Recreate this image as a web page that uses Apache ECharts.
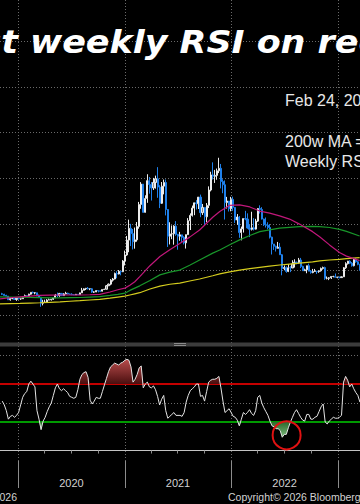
<!DOCTYPE html>
<html><head><meta charset="utf-8">
<script src="https://cdn.jsdelivr.net/npm/echarts@6/dist/echarts.min.js"></script>
<style>html,body{margin:0;padding:0;background:#000;}#c{width:360px;height:504px;}</style>
</head><body><div id="c"></div>
<script>
// ---- data (weekly BTC bars, first bar dated below, one bar per week) ----
const firstBarDate = '2019-11-08';
const opens = [9530,9310,8810,8500,6900,7420,7510,7070,7510,7300,
7350,8180,8700,8600,9350,10150,9920,9960,8530,8040,
5360,5830,5880,6780,6900,7120,7700,8900,8750,9670,
8720,9450,9750,9380,9300,9120,9070,9300,9170,9930,
11050,11680,11900,11680,11700,10250,10330,10920,10780,10670,
11380,11500,13030,13740,15480,15970,18400,18180,19370,19170,
23860,26500,33000,38150,35830,32290,33110,38900,48580,57490,
45140,51200,59000,57300,55800,58200,59800,56200,49100,56600,
58200,46400,34700,35700,35800,39100,35500,34700,35300,34200,
31800,35400,41500,43800,47000,49300,48900,51800,45000,47300,
43200,48200,54900,61500,60900,61300,63300,64400,58600,57200,
49400,50100,46700,50800,47300,41800,43100,36300,37900,42400,
42200,38300,37700,38400,37800,41300,46800,46400,42200,39700,
39500,38500,34300,31300,30300,29400,29900,26600,20600,21000,
19300,20900,20800,22600,23300,23200,24300,21500,19600,20000,
21800,19400,18800,19300,19400,19200,19600,20600,21000,16300,
16300,16500,17100,17100,16750,16800,16600,16950,20900,22700,
23800,22900,21800,24600,23500,22400];
const closes = [9310,8810,8500,6900,7420,7510,7070,7510,7300,7350,
8180,8700,8600,9350,10150,9920,9960,8530,8040,5360,
5830,5880,6780,6900,7120,7700,8900,8750,9670,8720,
9450,9750,9380,9300,9120,9070,9300,9170,9930,11050,
11680,11900,11680,11700,10250,10330,10920,10780,10670,11380,
11500,13030,13740,15480,15970,18400,18180,19370,19170,23860,
26500,33000,38150,35830,32290,33110,38900,48580,57490,45140,
51200,59000,57300,55800,58200,59800,56200,49100,56600,58200,
46400,34700,35700,35800,39100,35500,34700,35300,34200,31800,
35400,41500,43800,47000,49300,48900,51800,45000,47300,43200,
48200,54900,61500,60900,61300,63300,64400,58600,57200,49400,
50100,46700,50800,47300,41800,43100,36300,37900,42400,42200,
38300,37700,38400,37800,41300,46800,46400,42200,39700,39500,
38500,34300,31300,30300,29400,29900,26600,20600,21000,19300,
20900,20800,22600,23300,23200,24300,21500,19600,20000,21800,
19400,18800,19300,19400,19200,19600,20600,21000,16300,16300,
16500,17100,17100,16750,16800,16600,16950,20900,22700,23800,
22900,21800,24600,23500,22400,22100];
const highs = [9940,9500,9080,8500,7860,7750,7690,7520,7700,7500,
8450,9190,8750,9560,10160,10500,10250,9990,9190,8180,
6900,6950,7200,7460,7290,7720,9450,10050,9900,9900,
9750,10400,10000,9600,9750,9300,9450,9340,10000,12100,
11900,12100,12470,11800,12050,10650,11100,10990,10950,11450,
11720,13350,14000,15950,16450,18800,19400,19900,19400,24250,
28400,34800,41950,40100,37850,38500,40900,49700,58350,57500,
52600,61800,60600,58400,60200,61200,64900,57000,58400,59500,
59500,46600,40800,39400,39500,41300,35700,36600,35300,34700,
35400,42600,44700,48100,49400,50500,51900,52900,48800,47300,
49200,56500,62900,67000,63700,64300,69000,66300,59600,59100,
51900,50100,51900,52000,47500,44400,43500,38900,42500,45800,
44700,39800,45400,42600,42300,47000,48200,47400,42400,42900,
40800,40000,34500,31300,30600,32200,31700,26900,21900,21500,
22500,21600,24200,24600,23600,25200,25200,21800,20500,21800,
22700,19900,20400,20400,19500,19700,21000,21400,21400,17100,
16800,17200,17400,18400,16950,16950,17100,21200,23300,23900,
24200,23400,25200,25200,23900,22600];
const lows = [8970,8700,8400,6790,6520,7170,7010,6430,7050,6870,
7350,8080,8300,8550,9100,9700,9300,8500,8020,3850,
4450,5690,5860,6780,6550,6800,7650,8100,8200,8700,
8650,9300,9250,9150,8950,8950,9050,9050,9130,9920,
10950,11150,11400,11100,9900,9900,10250,10150,10400,10530,
11220,11420,12950,13250,14850,15800,16300,18000,17600,19000,
21900,26100,27700,30400,28900,29250,32300,37990,46700,44900,
45000,49300,53300,50300,54900,55500,51500,47000,48800,53000,
43800,30000,31100,33400,31000,34900,28800,32700,32100,31100,
29300,35200,37400,43300,43900,46400,46600,43000,44000,39600,
40800,47000,54300,59500,58000,59400,62300,55600,53500,42000,
46800,45500,45600,45800,40500,39700,34000,32900,36300,41700,
38000,34300,37200,37200,37600,40900,44600,42000,39200,38500,
37700,33700,26700,28700,28000,29300,26600,17600,19800,18700,
19000,19000,20800,21000,22400,22700,20800,19600,19600,18500,
19400,18300,18500,19100,18200,18700,19200,20100,15600,15800,
15500,16000,16700,16600,16300,16300,16500,16900,20400,22300,
22500,21400,21500,23100,22000,19600];
const rsi = [52,48,42,33,36,37,35,37,40,48,
56,60,62,70,73,70,67,42,33,22,
31,35,41,46,50,58,66,70,65,63,
65,63,61,57,56,55,56,64,75,80,
82,83,77,53,49,52,56,55,55,62,
69,76,83,88,90,92,91,90,92,93,
95,96,95,88,72,75,80,87,89,66,
70,72,67,66,68,64,57,48,54,58,
42,34,36,38,40,37,37,37,36,40,
51,58,63,65,67,70,70,57,58,52,
62,72,74,75,75,76,78,66,52,40,
42,44,40,36,35,32,26,33,40,38,
40,43,39,37,42,56,58,50,45,41,
37,31,26,25,23,23,21,14,17,17,
24,30,35,40,43,39,35,32,31,38,
38,33,33,35,36,41,46,49,30,28,
31,33,35,34,34,35,37,72,78,74,
67,70,65,61,58,51];
// moving averages (USD thousands) read at sample dates
const maDates = ['2019-10-31','2019-12-05','2020-01-08','2020-02-11','2020-03-16','2020-04-19','2020-05-24','2020-06-27','2020-07-31','2020-09-03','2020-10-07','2020-11-11','2020-12-08','2021-01-01','2021-01-18','2021-02-04','2021-02-21','2021-03-28','2021-05-01','2021-06-04','2021-07-08','2021-08-11','2021-09-14','2021-10-29','2021-11-22','2021-12-26','2022-01-29','2022-03-05','2022-04-08','2022-05-12','2022-06-15','2022-07-19','2022-08-22','2022-10-06','2022-10-30','2022-12-03','2023-01-06','2023-01-30','2023-03-16'];
const ma50 = [7.3,7.8,8.2,8.5,8.8,8.9,9.0,9.0,9.0,9.1,9.3,10.3,11.3,12.0,13.3,14.8,17.0,21.8,25.8,28.8,31.5,34.3,37.4,43.0,45.5,48.2,48.4,47.5,45.7,44.8,43.6,42.2,40.0,36.7,34.5,30.9,27.6,26.0,24.0];
const ma100 = [8.2,8.1,8.0,7.9,7.8,7.7,7.7,7.8,7.9,8.1,8.3,8.8,9.3,9.8,11.0,12.0,13.0,15.3,17.8,19.0,19.9,22.0,24.3,27.3,28.7,31.0,33.1,35.0,36.7,37.5,38.2,38.6,38.9,39.0,38.9,38.5,37.7,36.8,34.8];
const ma200 = [5.1,5.2,5.3,5.45,5.6,5.8,6.0,6.25,6.5,6.8,7.1,7.6,8.1,8.5,9.0,9.5,10.0,11.6,12.9,13.7,14.2,15.1,16.0,17.4,18.2,19.1,19.9,20.5,21.1,21.6,22.1,22.5,22.9,23.5,23.9,24.3,24.6,24.9,25.3];
// axes
const viewStart = '2019-10-31T08:00:00Z';
const viewEnd = '2023-03-17T08:00:00Z';
const yearTicks = ['2020-01-01','2021-01-01','2022-01-01','2023-01-01'];
const quarterTicks = ['2020-04-01','2020-07-01','2020-10-01','2021-04-01','2021-07-01','2021-10-01','2022-04-01','2022-07-01','2022-10-01'];
const yearLabelDates = ['2020-07-02','2021-07-02','2022-07-02'];
const yearLabels = ['2020','2021','2022'];
const priceGridValues = [0,20000,40000,60000,80000,100000,120000];
const rsiGridValues = [0,50,100];
const rsiUpper = 70, rsiLower = 30;
const circleDate = '2022-07-09', circleValue = 16;
// texts
const titleText = 'Lowest weekly RSI on record';
const legendDate = 'Feb 24, 2026';
const legendMA = '200w MA =';
const legendRSI = 'Weekly RSI';
const footLeft = 'Feb 24, 2026';
const footCopy = 'Copyright\u00A9 2026 Bloomberg Finance L.P.';

const T = s => new Date(s.length <= 10 ? s + 'T00:00:00Z' : s).getTime();
const DAY = 86400000;
const t0 = T(firstBarDate);
const barTimes = opens.map((_, i) => t0 + i * 7 * DAY);
const candleData = opens.map((o, i) => [barTimes[i], o, closes[i], lows[i], highs[i]]);
const rsiData = rsi.map((v, i) => [barTimes[i], v]);
const rsiHi = rsi.map((v, i) => [barTimes[i], Math.max(v, rsiUpper)]);
const rsiLo = rsi.map((v, i) => [barTimes[i], Math.min(v, rsiLower)]);
const maSeries = arr => arr.map((v, i) => [T(maDates[i]), v * 1000]);
const yearLabelTimes = yearLabelDates.map(T);

// title placement
const TITLE_FONT = 'italic bold 32px "DejaVu Sans"';
const mctx = document.createElement('canvas').getContext('2d');
mctx.font = TITLE_FONT;
const titleScale = 1.02 * 282 / mctx.measureText('weekly RSI on ').width;
const titleX = 30 - titleScale * mctx.measureText('Lowest ').width;

const dotted = { color: '#6a6a6a', width: 1, type: [1, 2] };
const xMin = T(viewStart), xMax = T(viewEnd);

const chart = echarts.init(document.getElementById('c'), null, { renderer: 'svg', width: 360, height: 504 });
chart.setOption({
  backgroundColor: '#000',
  animation: false,
  grid: [
    { left: 0, right: 0, top: 0, height: 343 },
    { left: 0, right: 0, top: 346, height: 115 }
  ],
  xAxis: [
    { type: 'value', gridIndex: 0, min: xMin, max: xMax,
      axisLine: { show: false }, axisTick: { show: false, customValues: yearTicks.map(T) },
      axisLabel: { show: false }, splitLine: { show: true, lineStyle: dotted } },
    { type: 'value', gridIndex: 1, min: xMin, max: xMax, position: 'bottom',
      axisLine: { show: true, lineStyle: { color: '#c4c4c4', width: 1 } },
      axisTick: { show: true, customValues: quarterTicks.map(T), length: 3, lineStyle: { color: '#8c8c8c' } },
      axisLabel: { show: false }, splitLine: { show: false } },
    { type: 'value', gridIndex: 1, min: xMin, max: xMax, position: 'bottom',
      axisLine: { show: false },
      axisTick: { show: true, customValues: yearTicks.map(T), length: 27, lineStyle: { color: '#8c8c8c' } },
      axisLabel: { show: true, customValues: yearLabelTimes,
        formatter: v => { const i = yearLabelTimes.indexOf(+v); return i >= 0 ? yearLabels[i] : ''; },
        color: '#d2d2d2', fontSize: 11, fontFamily: 'Liberation Sans', margin: 16 },
      splitLine: { show: true, lineStyle: dotted } }
  ],
  yAxis: [
    { type: 'value', gridIndex: 0, min: -12000, max: 138000,
      axisLine: { show: false }, axisTick: { show: false, customValues: priceGridValues },
      axisLabel: { show: false }, splitLine: { show: true, lineStyle: dotted } },
    { type: 'value', gridIndex: 1, min: -11, max: 110,
      axisLine: { show: false }, axisTick: { show: false, customValues: rsiGridValues },
      axisLabel: { show: false }, splitLine: { show: true, lineStyle: dotted } }
  ],
  series: [
    { type: 'line', xAxisIndex: 0, yAxisIndex: 0, data: maSeries(ma200), symbol: 'none', silent: true,
      lineStyle: { color: '#d4cc1e', width: 1.2 } },
    { type: 'line', xAxisIndex: 0, yAxisIndex: 0, data: maSeries(ma100), symbol: 'none', silent: true,
      lineStyle: { color: '#18962a', width: 1.2 } },
    { type: 'line', xAxisIndex: 0, yAxisIndex: 0, data: maSeries(ma50), symbol: 'none', silent: true,
      lineStyle: { color: '#c0177a', width: 1.2 } },
    { type: 'candlestick', xAxisIndex: 0, yAxisIndex: 0, data: candleData,
      encode: { x: 0, y: [1, 2, 3, 4] }, barWidth: 1.6, silent: true,
      itemStyle: { color: '#8c8c8c', color0: '#1f80ea', borderColor: '#ececec', borderColor0: '#1f80ea', borderWidth: 1 } },
    { type: 'line', xAxisIndex: 2, yAxisIndex: 1, data: rsiHi, symbol: 'none', silent: true,
      lineStyle: { width: 0 },
      areaStyle: { origin: rsiUpper, opacity: 1,
        color: new echarts.graphic.LinearGradient(0, 0, 0, 1, [{ offset: 0, color: '#b84c4c' }, { offset: 1, color: '#4a0f0f' }]) } },
    { type: 'line', xAxisIndex: 2, yAxisIndex: 1, data: rsiLo, symbol: 'none', silent: true,
      lineStyle: { width: 0 },
      areaStyle: { origin: rsiLower, opacity: 1,
        color: new echarts.graphic.LinearGradient(0, 0, 0, 1, [{ offset: 0, color: '#2c6a2c' }, { offset: 1, color: '#7cba7c' }]) } },
    { type: 'line', xAxisIndex: 2, yAxisIndex: 1, data: rsiData, symbol: 'none', silent: true,
      lineStyle: { color: '#e4e4e4', width: 1 }, z: 3,
      markLine: { silent: true, symbol: 'none', label: { show: false }, z: 2,
        data: [ { yAxis: rsiUpper, lineStyle: { color: '#c40000', width: 2, type: 'solid' } },
                { yAxis: rsiLower, lineStyle: { color: '#009a00', width: 2, type: 'solid' } } ] },
      markPoint: { silent: true, symbol: 'circle', symbolSize: 28, label: { show: false },
        itemStyle: { color: 'rgba(0,0,0,0)', borderColor: '#e01212', borderWidth: 2 },
        data: [ { coord: [T(circleDate), circleValue] } ] } }
  ],
  graphic: [
    { type: 'rect', z: 50, shape: { x: 0, y: 342.5, width: 360, height: 4 }, style: { fill: '#3c3c3c' } },
    { type: 'rect', z: 51, shape: { x: 174, y: 343, width: 12, height: 1 }, style: { fill: '#8a8a8a' } },
    { type: 'rect', z: 51, shape: { x: 174, y: 345, width: 12, height: 1 }, style: { fill: '#8a8a8a' } },
    { type: 'text', z: 100, x: titleX, y: 42, scaleX: titleScale, scaleY: 1,
      style: { text: titleText, font: TITLE_FONT, fill: '#ffffff',
      textAlign: 'left', textVerticalAlign: 'middle', shadowColor: '#2a44a8', shadowOffsetX: 1, shadowOffsetY: 1, shadowBlur: 0 } },
    { type: 'text', z: 100, x: 285, y: 100, style: { text: legendDate, font: '16px "Liberation Sans"', fill: '#e8e8e8', textAlign: 'left', textVerticalAlign: 'middle' } },
    { type: 'text', z: 100, x: 285, y: 141, style: { text: legendMA, font: '16px "Liberation Sans"', fill: '#e8e8e8', textAlign: 'left', textVerticalAlign: 'middle' } },
    { type: 'text', z: 100, x: 285, y: 161, style: { text: legendRSI, font: '16px "Liberation Sans"', fill: '#e8e8e8', textAlign: 'left', textVerticalAlign: 'middle' } },
    { type: 'text', z: 100, x: 17, y: 497, style: { text: footLeft, font: '10.5px "Liberation Sans"', fill: '#d2d2d2', textAlign: 'right', textVerticalAlign: 'middle' } },
    { type: 'text', z: 100, x: 228, y: 497, style: { text: footCopy, font: '10.5px "Liberation Sans"', fill: '#d2d2d2', textAlign: 'left', textVerticalAlign: 'middle' } }
  ]
});
</script></body></html>
